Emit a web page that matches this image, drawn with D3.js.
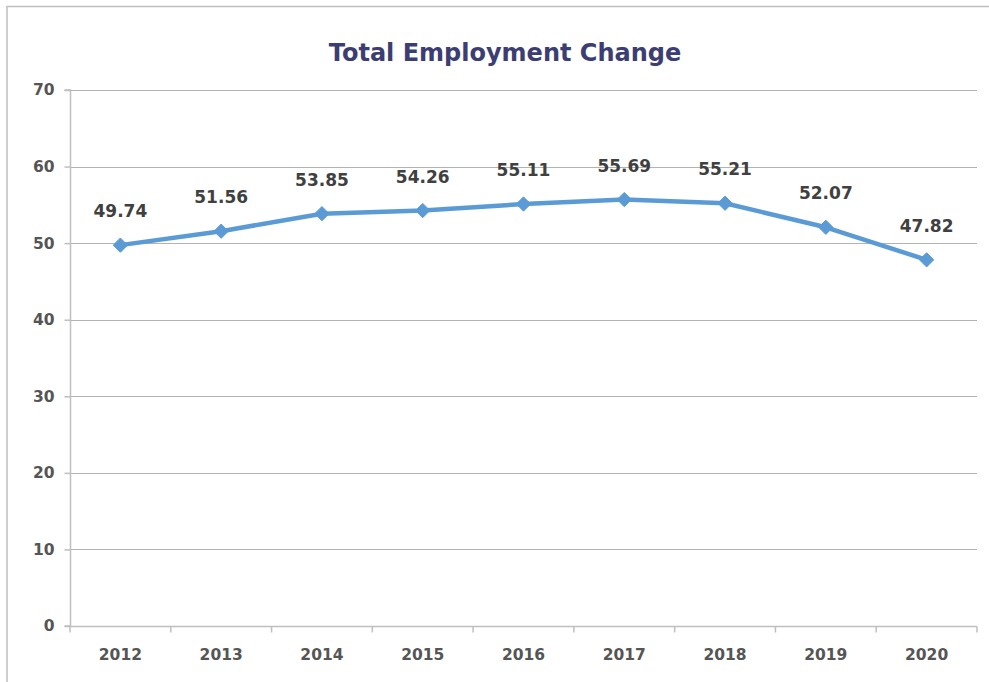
<!DOCTYPE html>
<html><head><meta charset="utf-8">
<script src="https://cdn.jsdelivr.net/npm/d3@7/dist/d3.min.js"></script>
<style>body{margin:0;background:#fff}svg{display:block}</style>
</head><body>
<script>
const years = ["2012","2013","2014","2015","2016","2017","2018","2019","2020"];
const values = [49.74,51.56,53.85,54.26,55.11,55.69,55.21,52.07,47.82];
const yTicks = [0,10,20,30,40,50,60,70];
const title = "Total Employment Change";

const W = 989, H = 682;
const m = {left:70, right:977, top:90, bottom:626};
const FONT = "'DejaVu Sans', Verdana, sans-serif";
const svg = d3.select("body").append("svg").attr("width",W).attr("height",H);

svg.append("rect").attr("x",7).attr("y",6.5).attr("width",1000).attr("height",700)
  .attr("fill","#fff").attr("stroke","#bfbfbf").attr("stroke-width",1.5);

const x = d3.scaleBand().domain(years).range([m.left,m.right]);
const y = d3.scaleLinear().domain([0,70]).range([m.bottom,m.top]);

svg.append("text").attr("x",505).attr("y",61).attr("text-anchor","middle")
  .attr("font-family",FONT).attr("font-weight","bold")
  .attr("font-size",24).attr("fill","#3b3d73").text(title);

// gridlines
svg.append("g").selectAll("line").data(yTicks.filter(d=>d>0)).join("line")
  .attr("x1",m.left).attr("x2",m.right)
  .attr("y1",d=>Math.round(y(d))+0.5).attr("y2",d=>Math.round(y(d))+0.5)
  .attr("stroke","#b3b3b3").attr("stroke-width",1);

// y axis
const ya = svg.append("g").attr("transform",`translate(${m.left+0.5},0)`)
  .call(d3.axisLeft(y).tickValues(yTicks).tickSize(6).tickPadding(10).tickFormat(d3.format("d")));
ya.select(".domain").attr("stroke","#bfbfbf").attr("stroke-width",1.5).attr("d",`M-6,${m.bottom}H0V${m.top}H-6`);
ya.selectAll(".tick line").attr("stroke","#bfbfbf").attr("stroke-width",1.5);
ya.selectAll("text").attr("font-family",FONT).attr("font-size",15.5).attr("font-weight","bold")
  .attr("fill","#555");

// x axis
const xa = svg.append("g").attr("transform",`translate(0,${m.bottom+0.5})`);
xa.append("line").attr("x1",m.left).attr("x2",m.right).attr("stroke","#bfbfbf").attr("stroke-width",1.5);
const bounds = years.map(d=>x(d)).concat([m.right]);
xa.selectAll(".tk").data(bounds).join("line").attr("class","tk")
  .attr("x1",d=>d).attr("x2",d=>d).attr("y1",0).attr("y2",6)
  .attr("stroke","#bfbfbf").attr("stroke-width",1.5);
xa.selectAll("text").data(years).join("text")
  .attr("x",d=>x(d)+x.bandwidth()/2).attr("y",33).attr("text-anchor","middle")
  .attr("font-family",FONT).attr("font-size",15.5).attr("font-weight","bold")
  .attr("fill","#555").text(d=>d);

const pts = years.map((d,i)=>[x(d)+x.bandwidth()/2, y(values[i])]);
svg.append("path").attr("d",d3.line()(pts))
  .attr("fill","none").attr("stroke","#5b9bd5").attr("stroke-width",4.5).attr("stroke-linejoin","round");

svg.append("g").selectAll("path").data(pts).join("path")
  .attr("transform",d=>`translate(${d[0]},${d[1]})`)
  .attr("d",d3.symbol().type(d3.symbolDiamond2).size(130))
  .attr("fill","#5b9bd5").attr("stroke","#5b9bd5").attr("stroke-width",1);

svg.append("g").selectAll("text").data(pts).join("text")
  .attr("x",d=>d[0]).attr("y",d=>d[1]-28).attr("text-anchor","middle")
  .attr("font-family",FONT).attr("font-size",17).attr("font-weight","bold")
  .attr("fill","#404040").text((d,i)=>values[i].toFixed(2));
</script>
</body></html>
